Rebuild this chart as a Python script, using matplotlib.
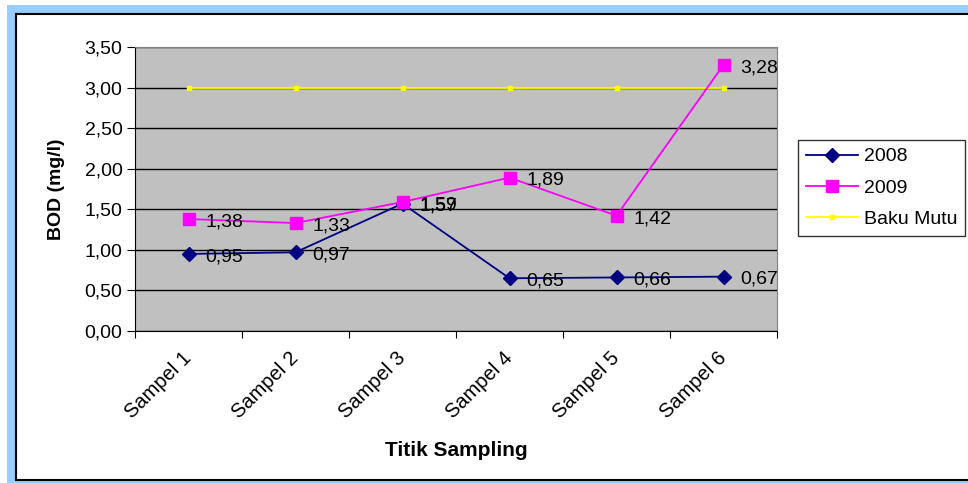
import matplotlib
matplotlib.use('agg')
import matplotlib.pyplot as plt
from matplotlib.patches import Rectangle

# BOD per sampling point
samples = ['Sampel 1', 'Sampel 2', 'Sampel 3', 'Sampel 4', 'Sampel 5', 'Sampel 6']
bod_2008 = [0.95, 0.97, 1.57, 0.65, 0.66, 0.67]
bod_2009 = [1.38, 1.33, 1.59, 1.89, 1.42, 3.28]
baku_mutu = [3.0, 3.0, 3.0, 3.0, 3.0, 3.0]
y_ticks = [0, 0.5, 1.0, 1.5, 2.0, 2.5, 3.0, 3.5]

plt.rcParams['font.family'] = ['Liberation Sans', 'DejaVu Sans']

fig = plt.figure(figsize=(9.68, 4.83), dpi=100)

# light blue frame with the black chart border inside it
fig.patches.append(Rectangle((7 / 968, 0), 1, 1 - 5 / 483, transform=fig.transFigure,
                             facecolor='#99ccff', edgecolor='none', zorder=0))
fig.patches.append(Rectangle((16 / 968, 3 / 483), 1, 1 - 17 / 483, transform=fig.transFigure,
                             facecolor='white', edgecolor='black', linewidth=1.5, zorder=1))

ax = fig.add_axes([135 / 968, 1 - 331 / 483, 642 / 968, 284 / 483])
ax.set_facecolor('#c0c0c0')
ax.set_zorder(2)

x = list(range(len(samples)))
ax.plot(x, baku_mutu, color='#ffff00', lw=1.3, marker='s', ms=3.5, mfc='#ffff00',
        mec='#ffff00', label='Baku Mutu', zorder=3)
ax.plot(x, bod_2008, color='#000080', lw=1.3, marker='D', ms=7, label='2008', zorder=4)
ax.plot(x, bod_2009, color='#ff00ff', lw=1.3, marker='s', ms=8, label='2009', zorder=5)

for series in (bod_2008, bod_2009):
    for xi, v in zip(x, series):
        ax.annotate(f'{v:.2f}'.replace('.', ','), (xi, v), xytext=(12, -2),
                    textcoords='offset points', va='center', ha='left', fontsize=14, zorder=6)

ax.set_xlim(-0.5, 5.5)
ax.set_ylim(0, 3.5)
ax.set_yticks(y_ticks)
ax.set_yticklabels([f'{t:.2f}'.replace('.', ',') for t in y_ticks], fontsize=14)
ax.yaxis.grid(True, color='black', lw=1)
ax.set_axisbelow(True)

# category ticks sit between the samples, labels under each sample
ax.set_xticks([i - 0.5 for i in range(len(samples) + 1)])
ax.set_xticklabels([])
ax.set_xticks(x, minor=True)
ax.set_xticklabels(samples, minor=True, rotation=45, ha='right', va='center',
                   rotation_mode='anchor', fontsize=14.5)
ax.tick_params(axis='x', which='major', length=5, color='black', direction='out')
ax.tick_params(axis='x', which='minor', length=0, pad=17)
ax.tick_params(axis='y', length=6, color='black', direction='out', pad=3)

for s in ['top', 'right']:
    ax.spines[s].set_color('#808080')
for s in ['left', 'bottom']:
    ax.spines[s].set_color('black')

ax.set_ylabel('BOD (mg/l)', fontsize=14, fontweight='bold', labelpad=14)
ax.set_xlabel('Titik Sampling', fontsize=15, fontweight='bold', labelpad=14)

h, l = ax.get_legend_handles_labels()
order = [1, 2, 0]
leg = fig.legend([h[i] for i in order], [l[i] for i in order],
                 loc='upper left', bbox_to_anchor=(798 / 968, 1 - 140 / 483),
                 fontsize=14, frameon=True, fancybox=False, edgecolor='black',
                 handlelength=2.7, borderpad=0.4, labelspacing=0.7, handletextpad=0.3,
                 borderaxespad=0)
leg.get_frame().set_linewidth(1)
leg.set_zorder(3)

plt.savefig('out.png', dpi=100)
